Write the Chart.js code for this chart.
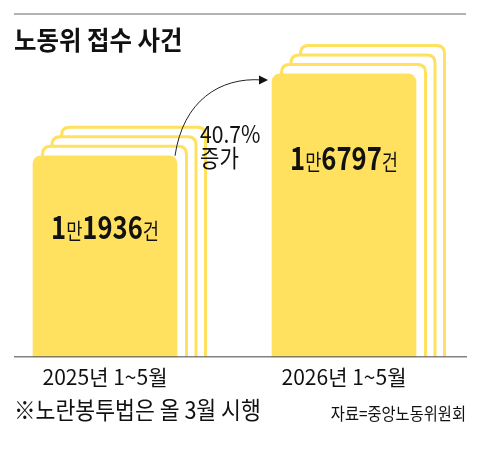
<!DOCTYPE html>
<html>
<head>
<meta charset="utf-8">
<script src="https://cdn.jsdelivr.net/npm/chart.js@4"></script>
<style>
  body { margin: 0; background: #fff; }
  #wrap { width: 480px; height: 455px; }
</style>
</head>
<body>
<div id="wrap"><canvas id="chart" width="480" height="455"></canvas></div>
<script>
// 데이터
const periods = ['2025년 1~5월', '2026년 1~5월'];
const cases = [11936, 16797];
const changeText = ['40.7%', '증가'];
const titleText = '노동위 접수 사건';
const noteText = '※노란봉투법은 올 3월 시행';
const sourceText = '자료=중앙노동위원회';

const YELLOW = '#ffe15f';
const FONT = '"Noto Sans CJK KR", "Noto Sans", sans-serif';

// 둥근 윗모서리 사각형
function topRoundRect(ctx, l, t, r, b, rad) {
  ctx.beginPath();
  ctx.moveTo(l, b);
  ctx.lineTo(l, t + rad);
  ctx.quadraticCurveTo(l, t, l + rad, t);
  ctx.lineTo(r - rad, t);
  ctx.quadraticCurveTo(r, t, r, t + rad);
  ctx.lineTo(r, b);
}

// 좁은 글꼴 흉내 (가로 축소)
function narrowText(ctx, text, x, y, font, sx, align) {
  ctx.save();
  ctx.font = font;
  const w = ctx.measureText(text).width * sx;
  let left = x;
  if (align === 'center') left = x - w / 2;
  if (align === 'right') left = x - w;
  ctx.translate(left, y);
  ctx.scale(sx, 1);
  ctx.textAlign = 'left';
  ctx.fillText(text, 0, 0);
  ctx.restore();
}

const stackPlugin = {
  id: 'stackPlugin',
  beforeDatasetsDraw(chart) {
    const ctx = chart.ctx;
    const meta = chart.getDatasetMeta(0);
    ctx.save();
    meta.data.forEach(bar => {
      const half = bar.width / 2;
      for (let k = 3; k >= 1; k--) {
        const d = k * 9.5;
        topRoundRect(ctx, bar.x - half + d, bar.y - d, bar.x + half + d, bar.base, 8);
        ctx.fillStyle = '#fff';
        ctx.fill();
        ctx.strokeStyle = YELLOW;
        ctx.lineWidth = 3;
        ctx.stroke();
      }
    });
    ctx.restore();
  },
  afterDatasetsDraw(chart) {
    const ctx = chart.ctx;
    const meta = chart.getDatasetMeta(0);
    const base = chart.scales.y.getPixelForValue(0);

    // 기준선
    ctx.save();
    ctx.strokeStyle = 'rgba(90,90,90,0.75)';
    ctx.lineWidth = 1.5;
    ctx.beginPath();
    ctx.moveTo(14, base);
    ctx.lineTo(467, base);
    ctx.stroke();

    // 막대 안 수치
    const drops = [83, 96];
    ctx.fillStyle = '#111';
    ctx.textBaseline = 'alphabetic';
    meta.data.forEach((bar, i) => {
      const v = cases[i];
      const parts = [
        { t: String(Math.floor(v / 10000)), f: 'bold 32px ' + FONT },
        { t: '만', f: '22px ' + FONT },
        { t: String(v % 10000), f: 'bold 32px ' + FONT },
        { t: '건', f: '22px ' + FONT }
      ];
      const sx = 0.8;
      let total = 0;
      parts.forEach(p => { ctx.font = p.f; p.w = ctx.measureText(p.t).width; total += p.w; });
      ctx.save();
      ctx.translate(bar.x - total * sx / 2, bar.y + drops[i]);
      ctx.scale(sx, 1);
      let x = 0;
      parts.forEach(p => { ctx.font = p.f; ctx.fillText(p.t, x, 0); x += p.w; });
      ctx.restore();
    });

    // 증가 화살표
    const a = meta.data[0], b = meta.data[1];
    const sx0 = a.x + a.width / 2 - 2, sy0 = a.y;
    const ex = b.x - b.width / 2 - 4, ey = b.y + 6;
    ctx.strokeStyle = '#222';
    ctx.lineWidth = 1;
    ctx.beginPath();
    ctx.moveTo(sx0, sy0);
    ctx.bezierCurveTo(sx0 + 8, sy0 - 55, sx0 + 45, ey - 3, ex - 6, ey);
    ctx.stroke();
    ctx.fillStyle = '#111';
    ctx.beginPath();
    ctx.moveTo(ex, ey);
    ctx.lineTo(ex - 9, ey - 4.5);
    ctx.lineTo(ex - 9, ey + 4.5);
    ctx.closePath();
    ctx.fill();

    ctx.textBaseline = 'alphabetic';
    narrowText(ctx, changeText[0], 200, 143, '24px ' + FONT, 0.88, 'left');
    narrowText(ctx, changeText[1], 200, 167, '24px ' + FONT, 0.88, 'left');
    ctx.restore();
  },
  afterDraw(chart) {
    const ctx = chart.ctx;
    ctx.save();
    // 윗줄
    ctx.strokeStyle = '#999';
    ctx.lineWidth = 1.5;
    ctx.beginPath();
    ctx.moveTo(14, 14);
    ctx.lineTo(466, 14);
    ctx.stroke();

    ctx.fillStyle = '#111';
    ctx.textBaseline = 'alphabetic';
    narrowText(ctx, titleText, 14, 50, 'bold 26px ' + FONT, 0.94, 'left');
    narrowText(ctx, noteText, 14, 419, '24px ' + FONT, 0.9, 'left');
    narrowText(ctx, sourceText, 466, 420, '17px ' + FONT, 0.9, 'right');
    ctx.restore();
  }
};

Chart.defaults.font.family = FONT;

new Chart(document.getElementById('chart'), {
  type: 'bar',
  data: {
    labels: periods,
    datasets: [{
      data: cases,
      backgroundColor: YELLOW,
      borderRadius: { topLeft: 8, topRight: 8 },
      borderSkipped: 'bottom',
      barThickness: 144,
      clip: false
    }]
  },
  options: {
    responsive: false,
    animation: false,
    layout: { padding: { left: 105, right: 136, top: 20, bottom: 65 } },
    plugins: {
      legend: { display: false },
      tooltip: { enabled: false }
    },
    scales: {
      x: {
        offset: false,
        grid: { display: false },
        border: { display: false },
        ticks: {
          color: '#111',
          padding: 0,
          maxRotation: 0,
          font: { size: 21 }
        }
      },
      y: {
        display: false,
        min: 0,
        max: 20000
      }
    }
  },
  plugins: [stackPlugin]
});
</script>
</body>
</html>
